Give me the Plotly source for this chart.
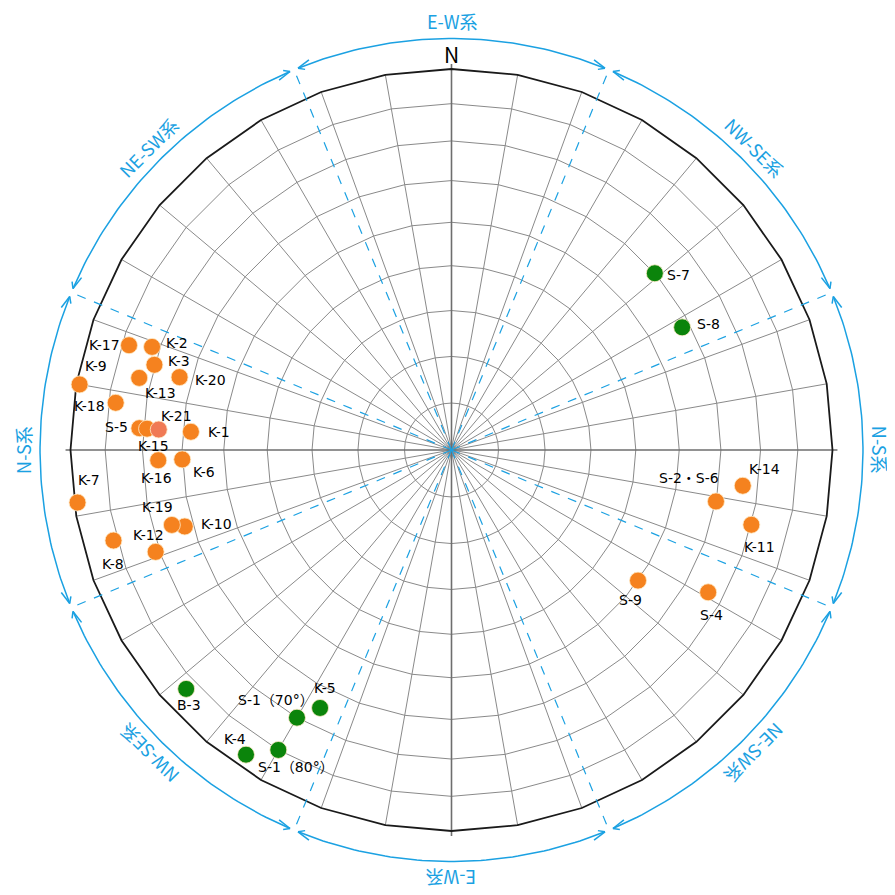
import numpy as np
import plotly.graph_objects as go

# poles: azimuth (deg, clockwise from N) and angle from centre (deg)
names = ["K-1", "K-2", "K-3", "K-4", "K-5", "K-6", "K-7", "K-8", "K-9", "K-10",
         "K-11", "K-12", "K-13", "K-14", "K-16", "K-17", "K-18", "K-19", "K-20",
         "S-5", "K-15", "K-21",
         "S-1（70°）", "S-1（80°）", "S-2・S-6", "S-4", "S-7", "S-8", "S-9", "B-3"]
azimuths = [274, 289, 286, 214, 207, 268, 262, 255, 280, 254,
            104, 251, 283, 97, 268, 288, 278, 255, 285,
            274, 274, 274,
            210, 210, 101, 119, 49, 62, 125, 228]
dips = [58, 72, 70, 86, 65, 60, 89, 81, 89, 62,
        70, 71, 73, 66, 66, 78, 78, 65, 63,
        71, 69, 66,
        70, 80, 60, 66, 60, 58, 50, 83]
kinds = ["o", "o", "o", "g", "g", "o", "o", "o", "o", "o",
         "o", "o", "o", "o", "o", "o", "o", "o", "o",
         "o", "o", "light",
         "g", "g", "o", "o", "g", "g", "o", "g"]

sector_names = ["E-W系", "NW-SE系", "N-S系", "NE-SW系", "E-W系", "NW-SE系", "N-S系", "NE-SW系"]
sector_centres = [0, 45, 90, 135, 180, 225, 270, 315]

# label placement relative to the marker, in pixels (right, down)
label_offsets = {
    "K-17": (-25, 0), "K-2": (25, -4), "K-3": (25, -4), "K-9": (16, -18),
    "K-13": (21, 15), "K-20": (31, 3), "K-18": (-26, 3), "K-21": (18, -14),
    "S-5": (-23, -1), "K-1": (28, 0), "K-15": (6, 17), "K-16": (-2, 18),
    "K-6": (22, 13), "K-7": (11, -23), "K-19": (-14, -18), "K-10": (32, -2),
    "K-12": (-7, -17), "K-8": (0, 23), "S-7": (24, 2), "S-8": (26, -3),
    "K-14": (22, -17), "S-2・S-6": (-27, -23), "K-11": (8, 22), "S-9": (-8, 19),
    "S-4": (3, 23), "B-3": (3, 16), "K-5": (5, -20), "S-1（70°）": (-21, -18),
    "K-4": (-11, -16), "S-1（80°）": (18, 17),
}

BLUE = "#1ba1e2"
ORANGE = "#f5821f"
LIGHT = "#f07a55"
GREEN = "#0b840b"
FONT = "Noto Sans CJK JP, Noto Sans, sans-serif"
LABEL_FONT = "DejaVu Sans, Noto Sans CJK JP, sans-serif"
PX = 381.0          # pixels per unit radius
BLUE_R = 1.08       # radius of the outer blue arcs
W = 887             # page body has an 8px margin
CX, CY = 443.5, 442.0


def proj(az, dip):
    """Equal-area (Schmidt) projection, unit primitive circle."""
    rho = np.sqrt(2) * np.sin(np.radians(dip) / 2)
    a = np.radians(az)
    return rho * np.sin(a), rho * np.cos(a)


def xy(az, r):
    a = np.radians(az)
    return r * np.sin(a), r * np.cos(a)


fig = go.Figure()

# grid: small circles every 10 deg (drawn with 10 deg chords like the original)
gx, gy = [], []
ring = np.arange(0, 361, 10)
for d in range(10, 90, 10):
    x, y = proj(ring, d)
    gx += list(x) + [None]
    gy += list(y) + [None]
for a in range(0, 360, 10):
    if a % 90 == 0:
        continue
    x, y = xy(a, 1.0)
    gx += [0, x, None]
    gy += [0, y, None]
fig.add_trace(go.Scatter(x=gx, y=gy, mode="lines", line=dict(color="#8a8a8a", width=1),
                         hoverinfo="skip"))

# N-S and E-W axes
fig.add_trace(go.Scatter(x=[0, 0, None, -1.013, 1.013], y=[-1.013, 1.013, None, 0, 0],
                         mode="lines", line=dict(color="#6e6e6e", width=1.6), hoverinfo="skip"))

# primitive circle
x, y = proj(ring, 90)
fig.add_trace(go.Scatter(x=x, y=y, mode="lines", line=dict(color="#1a1a1a", width=1.8),
                         hoverinfo="skip"))

# sector boundaries (dashed) and blue arcs with arrowheads
bx, by = [], []
for k in range(8):
    a = 22.5 + 45 * k
    x, y = xy(a, BLUE_R)
    bx += [0, x, None]
    by += [0, y, None]
fig.add_trace(go.Scatter(x=bx, y=by, mode="lines", line=dict(color=BLUE, width=1.2, dash="dash"),
                         hoverinfo="skip"))

ax_, ay_ = [], []
head = 11 / PX
for c in sector_centres:
    a0, a1 = c - 22.5 + 0.6, c + 22.5 - 0.6
    t = np.linspace(a0, a1, 60)
    x, y = xy(t, BLUE_R)
    ax_ += list(x) + [None]
    ay_ += list(y) + [None]
    for a_end, sgn in ((a0, -1), (a1, 1)):
        px, py = xy(a_end, BLUE_R)
        r = np.radians(a_end)
        tx, ty = sgn * np.cos(r), -sgn * np.sin(r)
        for w in (-28, 28):
            wr = np.radians(w)
            bxv = -tx * np.cos(wr) + ty * np.sin(wr)
            byv = tx * np.sin(wr) - ty * np.cos(wr)
            ax_ += [px, px + head * bxv, None]
            ay_ += [py, py + head * byv, None]
fig.add_trace(go.Scatter(x=ax_, y=ay_, mode="lines", line=dict(color=BLUE, width=1.5),
                         hoverinfo="skip"))

# poles
colours = {"o": ORANGE, "g": GREEN, "light": LIGHT}
px_, py_ = proj(np.array(azimuths), np.array(dips))
fig.add_trace(go.Scatter(
    x=px_, y=py_, mode="markers", text=names,
    marker=dict(size=17, color=[colours[k] for k in kinds],
                line=dict(color="rgba(255,235,200,0.8)", width=1)),
    hovertemplate="%{text}<extra></extra>",
))

annotations = []
for n, x, y in zip(names, px_, py_):
    dx, dy = label_offsets[n]
    annotations.append(dict(x=x, y=y, xref="x", yref="y", text=n, showarrow=False,
                            xshift=dx, yshift=-dy, borderpad=0,
                            font=dict(size=14, color="black", family=LABEL_FONT)))

for name, c in zip(sector_names, sector_centres):
    x, y = xy(c, 1.125)
    angle = c if c <= 180 else c - 360
    annotations.append(dict(x=x, y=y, xref="x", yref="y", text=name, showarrow=False,
                            textangle=angle, font=dict(size=18, color=BLUE, family=FONT)))

annotations.append(dict(x=0, y=1.04, xref="x", yref="y", text="N", showarrow=False,
                        font=dict(size=21, color="black", family=FONT)))

fig.update_layout(
    width=W, height=W,
    margin=dict(l=0, r=0, t=0, b=0),
    paper_bgcolor="white", plot_bgcolor="white",
    showlegend=False,
    annotations=annotations,
    xaxis=dict(range=[-CX / PX, (W - CX) / PX], visible=False, fixedrange=True),
    yaxis=dict(range=[-(W - CY) / PX, CY / PX], visible=False, fixedrange=True),
)

fig.write_html("out.html")
